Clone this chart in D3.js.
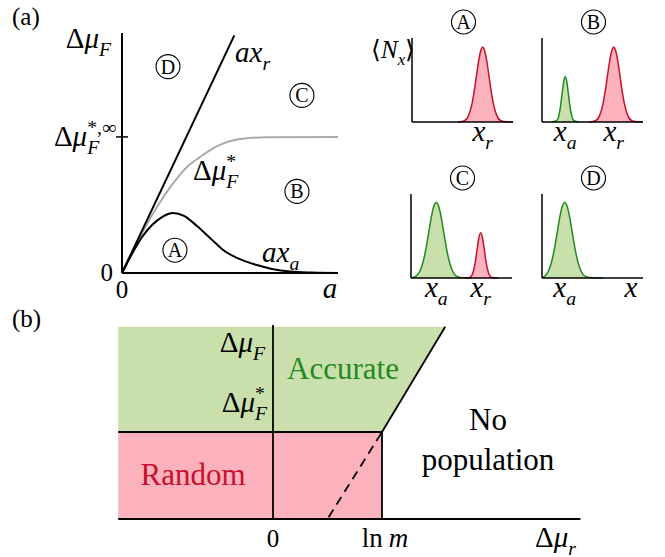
<!DOCTYPE html>
<html><head><meta charset="utf-8">
<script src="https://cdn.jsdelivr.net/npm/d3@7"></script>
</head><body style="margin:0">
<svg id="c" width="665" height="557"></svg>
<script>
// ---------- DATA ----------
// Panel (a), main diagram: a in [0,10], Δμ_F in [0,10]
const axrLine = [[0,0],[5.2,9.9]];
const muStarCurve = [[0,0],[0.93,1.67],[1.62,2.75],[2.31,3.67],[3.01,4.42],[3.61,4.83],[3.94,5.04],[4.63,5.38],[5.32,5.56],[6.71,5.66],[10,5.67]];
const axaCurve = [[0,0],[0.46,0.79],[0.93,1.5],[1.39,2.0],[1.85,2.33],[2.36,2.5],[2.87,2.38],[3.47,1.96],[4.17,1.38],[4.68,0.96],[5.32,0.63],[6.25,0.33],[6.94,0.17],[7.78,0.06],[8.8,0.02],[10,0]];
const muInfTick = 5.67;
const regionLabels = ["D","C","B","A"];
const regionPos = [[2.13,8.6],[8.33,7.4],[8.1,3.4],[2.45,0.95]];

// Panel (a), small distributions: x in [0,100], <N_x> in [0,100]
const distA_red   = [[46,0],[52,1.5],[56,7.6],[59,19.4],[62,39.8],[64,56.6],[66,72.7],[68,84.6],[70,89],[72,84.6],[74,72.7],[76,56.6],[78,39.8],[81,19.4],[84,7.6],[88,1.5],[94,0.2],[100,0]];
const distB_green = [[10,0],[15,2.4],[17,9.3],[18.5,20.1],[20,34.8],[21.5,48.4],[23,54],[24.5,48.4],[26,34.8],[27.5,20.1],[29,9.3],[31,2.4],[36,0]];
const distB_red   = [[47,0],[53,1.5],[57,7.6],[60,19.4],[63,39.8],[65,56.6],[67,72.7],[69,84.6],[71,89],[73,84.6],[75,72.7],[77,56.6],[79,39.8],[82,19.4],[85,7.6],[89,1.5],[95,0.2],[100,0]];
const distC_green = [[0,0.3],[5,2.3],[9,8.6],[12,19.3],[15,36.1],[17.5,53.8],[20,71.6],[22.5,85],[25,90],[27.5,85],[30,71.6],[32.5,53.8],[35,36.1],[38,19.3],[41,8.6],[45,2.3],[52,0.2],[60,0]];
const distC_red   = [[54,0],[58,0.6],[60.5,3.8],[62.5,11.6],[64,21.6],[65.5,34.6],[67,46.7],[69,54],[71,46.7],[72.5,34.6],[74,21.6],[75.5,11.6],[77.5,3.8],[80,0.6],[86,0]];
const distD_green = [[0,0.5],[3,2.3],[6.5,8.6],[9.5,19.3],[12.5,36.1],[15,53.8],[17.5,71.6],[20,85],[22.5,90],[25,85],[27.5,71.6],[30,53.8],[32.5,36.1],[35.5,19.3],[38.5,8.6],[42.5,2.3],[50,0.2],[60,0]];
const distLabelsA = [["x","r",70]];
const distLabelsB = [["x","a",23],["x","r",71]];
const distLabelsC = [["x","a",25],["x","r",69]];
const distLabelsD = [["x","a",22.5],["x","",88]];

// Panel (b): Δμ_r (0 at 0, ln m at 1), Δμ_F (Δμ_F* at 1)
const bXMin = -1.42, bXMax = 2.82, bYTop = 2.21;
const accuratePoly = [[-1.42,1],[-1.42,2.21],[1.58,2.21],[1,1]];
const randomPoly   = [[-1.42,0],[-1.42,1],[1,1],[1,0]];
const boundarySlant = [[1,1],[1.58,2.21]];
const boundaryDashed = [[0.51,0.02],[1,1]];
const bXTicks = [[0,"0"],[1,"ln m"]];

// ---------- DRAW ----------
// every text uses ONE font size (20px) and is scaled by a transform
const FONT = "Liberation Serif", BASE = 20;
const svg = d3.select("#c");
const RED="#c8102e", RED_FILL="#fbb2bd", GREEN="#1f8a1f", GREEN_FILL="#c9e0ad";

function txt(parent, x, y, t, size, opts={}){
  const k = size/BASE;
  const el = parent.append("text").attr("x",0).attr("y",0)
    .attr("transform",`translate(${x},${y}) scale(${k})`)
    .style("font-family",FONT).style("font-size",BASE+"px")
    .attr("fill",opts.color||"#000").text(t);
  if (opts.italic) el.style("font-style","italic");
  if (opts.anchor) el.attr("text-anchor",opts.anchor);
  return el;
}
function mathLabel(parent, x, y, pieces, size, anchor="start", color="#000"){
  const g = parent.append("g");
  let cx = 0;
  const put = (t, px, py, s, it) => txt(g, px, py, t, s, {italic:it, color}).node().getComputedTextLength()*s/BASE;
  pieces.forEach(p=>{
    if (p.t !== undefined){ cx += (p.gap||0) + put(p.t, cx + (p.gap||0), 0, size, p.i); }
    else {
      const ss = size*0.68; let w = 0;
      if (p.sup) w = Math.max(w, put(p.sup.t, cx, -size*0.42, ss, p.sup.i));
      if (p.sub) w = Math.max(w, put(p.sub.t, cx, size*0.27, ss, p.sub.i));
      cx += w;
    }
  });
  const dx = anchor==="middle" ? -cx/2 : anchor==="end" ? -cx : 0;
  g.attr("transform",`translate(${x+dx},${y})`);
  return g;
}
function circled(parent, x, y, letter){
  parent.append("circle").attr("cx",x).attr("cy",y).attr("r",12).attr("fill","none").attr("stroke","#000").attr("stroke-width",1.1);
  txt(parent, x, y+7, letter, 20, {anchor:"middle"});
}
const DMU = [{t:"Δ"},{t:"μ",i:true}];

// Panel labels
txt(svg, 12, 25, "(a)", 25);
txt(svg, 12, 327, "(b)", 25);

// --- main diagram
const xa = d3.scaleLinear().domain([0,10]).range([122,338]);
const ya = d3.scaleLinear().domain([0,10]).range([273,33]);
const ga = svg.append("g");
const lineA = d3.line().x(d=>xa(d[0])).y(d=>ya(d[1]));
ga.append("path").attr("d",lineA.curve(d3.curveMonotoneX)(muStarCurve)).attr("fill","none").attr("stroke","#aaa").attr("stroke-width",2);
ga.append("path").attr("d",lineA.curve(d3.curveMonotoneX)(axaCurve)).attr("fill","none").attr("stroke","#000").attr("stroke-width",2);
ga.append("path").attr("d",lineA.curve(d3.curveLinear)(axrLine)).attr("fill","none").attr("stroke","#000").attr("stroke-width",2);
ga.append("line").attr("x1",xa(0)).attr("x2",xa(0)).attr("y1",ya(10)).attr("y2",ya(0)).attr("stroke","#000").attr("stroke-width",2);
ga.append("line").attr("x1",xa(0)).attr("x2",xa(10)).attr("y1",ya(0)).attr("y2",ya(0)).attr("stroke","#000").attr("stroke-width",2);
ga.append("line").attr("x1",xa(0)-6).attr("x2",xa(0)+6).attr("y1",ya(muInfTick)).attr("y2",ya(muInfTick)).attr("stroke","#000").attr("stroke-width",1.5);
regionLabels.forEach((l,i)=>circled(ga, xa(regionPos[i][0]), ya(regionPos[i][1]), l));
mathLabel(ga, 111, 48, [...DMU, {sub:{t:"F",i:true}}], 29, "end");
mathLabel(ga, 116, 146, [...DMU, {sup:{t:"*,∞"}, sub:{t:"F",i:true}}], 29, "end");
mathLabel(ga, 235, 62, [{t:"ax",i:true},{sub:{t:"r",i:true}}], 29);
mathLabel(ga, 193, 180, [...DMU, {sup:{t:"*"}, sub:{t:"F",i:true}}], 29);
mathLabel(ga, 262, 262, [{t:"ax",i:true},{sub:{t:"a",i:true}}], 29);
txt(ga, xa(0)-9, ya(0)+8, "0", 25, {anchor:"end"});
txt(ga, xa(0), ya(0)+25, "0", 25, {anchor:"middle"});
txt(ga, xa(10)-8, ya(0)+25, "a", 29, {anchor:"middle", italic:true});

// --- small distribution panels
function distPanel(x0, y0, letter, curves, labels){
  const xs = d3.scaleLinear().domain([0,100]).range([x0, x0+101]);
  const ys = d3.scaleLinear().domain([0,100]).range([y0, y0-84]);
  const g = svg.append("g");
  const area = d3.area().x(d=>xs(d[0])).y0(ys(0)).y1(d=>ys(d[1])).curve(d3.curveMonotoneX);
  const line = d3.line().x(d=>xs(d[0])).y(d=>ys(d[1])).curve(d3.curveMonotoneX);
  curves.forEach(([data,col,fill])=>{
    g.append("path").attr("d",area(data)).attr("fill",fill);
    g.append("path").attr("d",line(data)).attr("fill","none").attr("stroke",col).attr("stroke-width",1.5);
  });
  g.append("line").attr("x1",xs(0)).attr("x2",xs(0)).attr("y1",ys(100)).attr("y2",ys(0)).attr("stroke","#000").attr("stroke-width",1.5);
  g.append("line").attr("x1",xs(0)).attr("x2",xs(100)).attr("y1",ys(0)).attr("y2",ys(0)).attr("stroke","#000").attr("stroke-width",1.5);
  circled(g, xs(51), ys(100)-16, letter);
  labels.forEach(([b,s,pos])=>{
    const pcs = [{t:b,i:true}]; if (s) pcs.push({sub:{t:s,i:true}});
    mathLabel(g, xs(pos), ys(0)+19, pcs, 29, "middle");
  });
}
distPanel(412,122,"A",[[distA_red,RED,RED_FILL]],distLabelsA);
distPanel(542,122,"B",[[distB_green,GREEN,GREEN_FILL],[distB_red,RED,RED_FILL]],distLabelsB);
distPanel(411,278,"C",[[distC_green,GREEN,GREEN_FILL],[distC_red,RED,RED_FILL]],distLabelsC);
distPanel(542,278,"D",[[distD_green,GREEN,GREEN_FILL]],distLabelsD);
mathLabel(svg, 371, 58, [{t:"⟨"},{t:"N",i:true},{sub:{t:"x",i:true}},{t:"⟩"}], 25);

// --- panel (b)
const xb = d3.scaleLinear().domain([0,1]).range([273,382]);
const yb = d3.scaleLinear().domain([0,1]).range([519,432]);
const gb = svg.append("g");
const lineB = d3.line().x(d=>xb(d[0])).y(d=>yb(d[1]));
gb.append("path").attr("d",lineB(accuratePoly)+"Z").attr("fill",GREEN_FILL);
gb.append("path").attr("d",lineB(randomPoly)+"Z").attr("fill",RED_FILL);
const blk = (d,w=1.8)=>gb.append("path").attr("d",lineB(d)).attr("fill","none").attr("stroke","#000").attr("stroke-width",w);
blk([[bXMin,1],[1,1]]);
blk([[0,0],[0,bYTop+0.02]]);
blk([[1,0],[1,1]]);
blk(boundarySlant);
blk(boundaryDashed).attr("stroke-dasharray","9,6");
blk([[bXMin,0],[bXMax,0]]);
mathLabel(gb, 265, 352, [...DMU,{sub:{t:"F",i:true}}], 29, "end");
mathLabel(gb, 267, 412, [...DMU,{sup:{t:"*"},sub:{t:"F",i:true}}], 29, "end");
txt(gb, 343, 379, "Accurate", 31, {anchor:"middle", color:GREEN});
txt(gb, 193, 485, "Random", 31, {anchor:"middle", color:RED});
txt(gb, 488, 430, "No", 31, {anchor:"middle"});
txt(gb, 488, 470, "population", 31, {anchor:"middle"});
bXTicks.forEach(([v,l])=>{
  if (l==="ln m") mathLabel(gb, xb(v)+3, 547, [{t:"ln"},{t:"m",i:true,gap:6}], 27, "middle");
  else txt(gb, xb(v), 547, l, 25, {anchor:"middle"});
});
mathLabel(gb, 576, 547, [...DMU,{sub:{t:"r",i:true}}], 29, "end");
</script>
</body></html>
